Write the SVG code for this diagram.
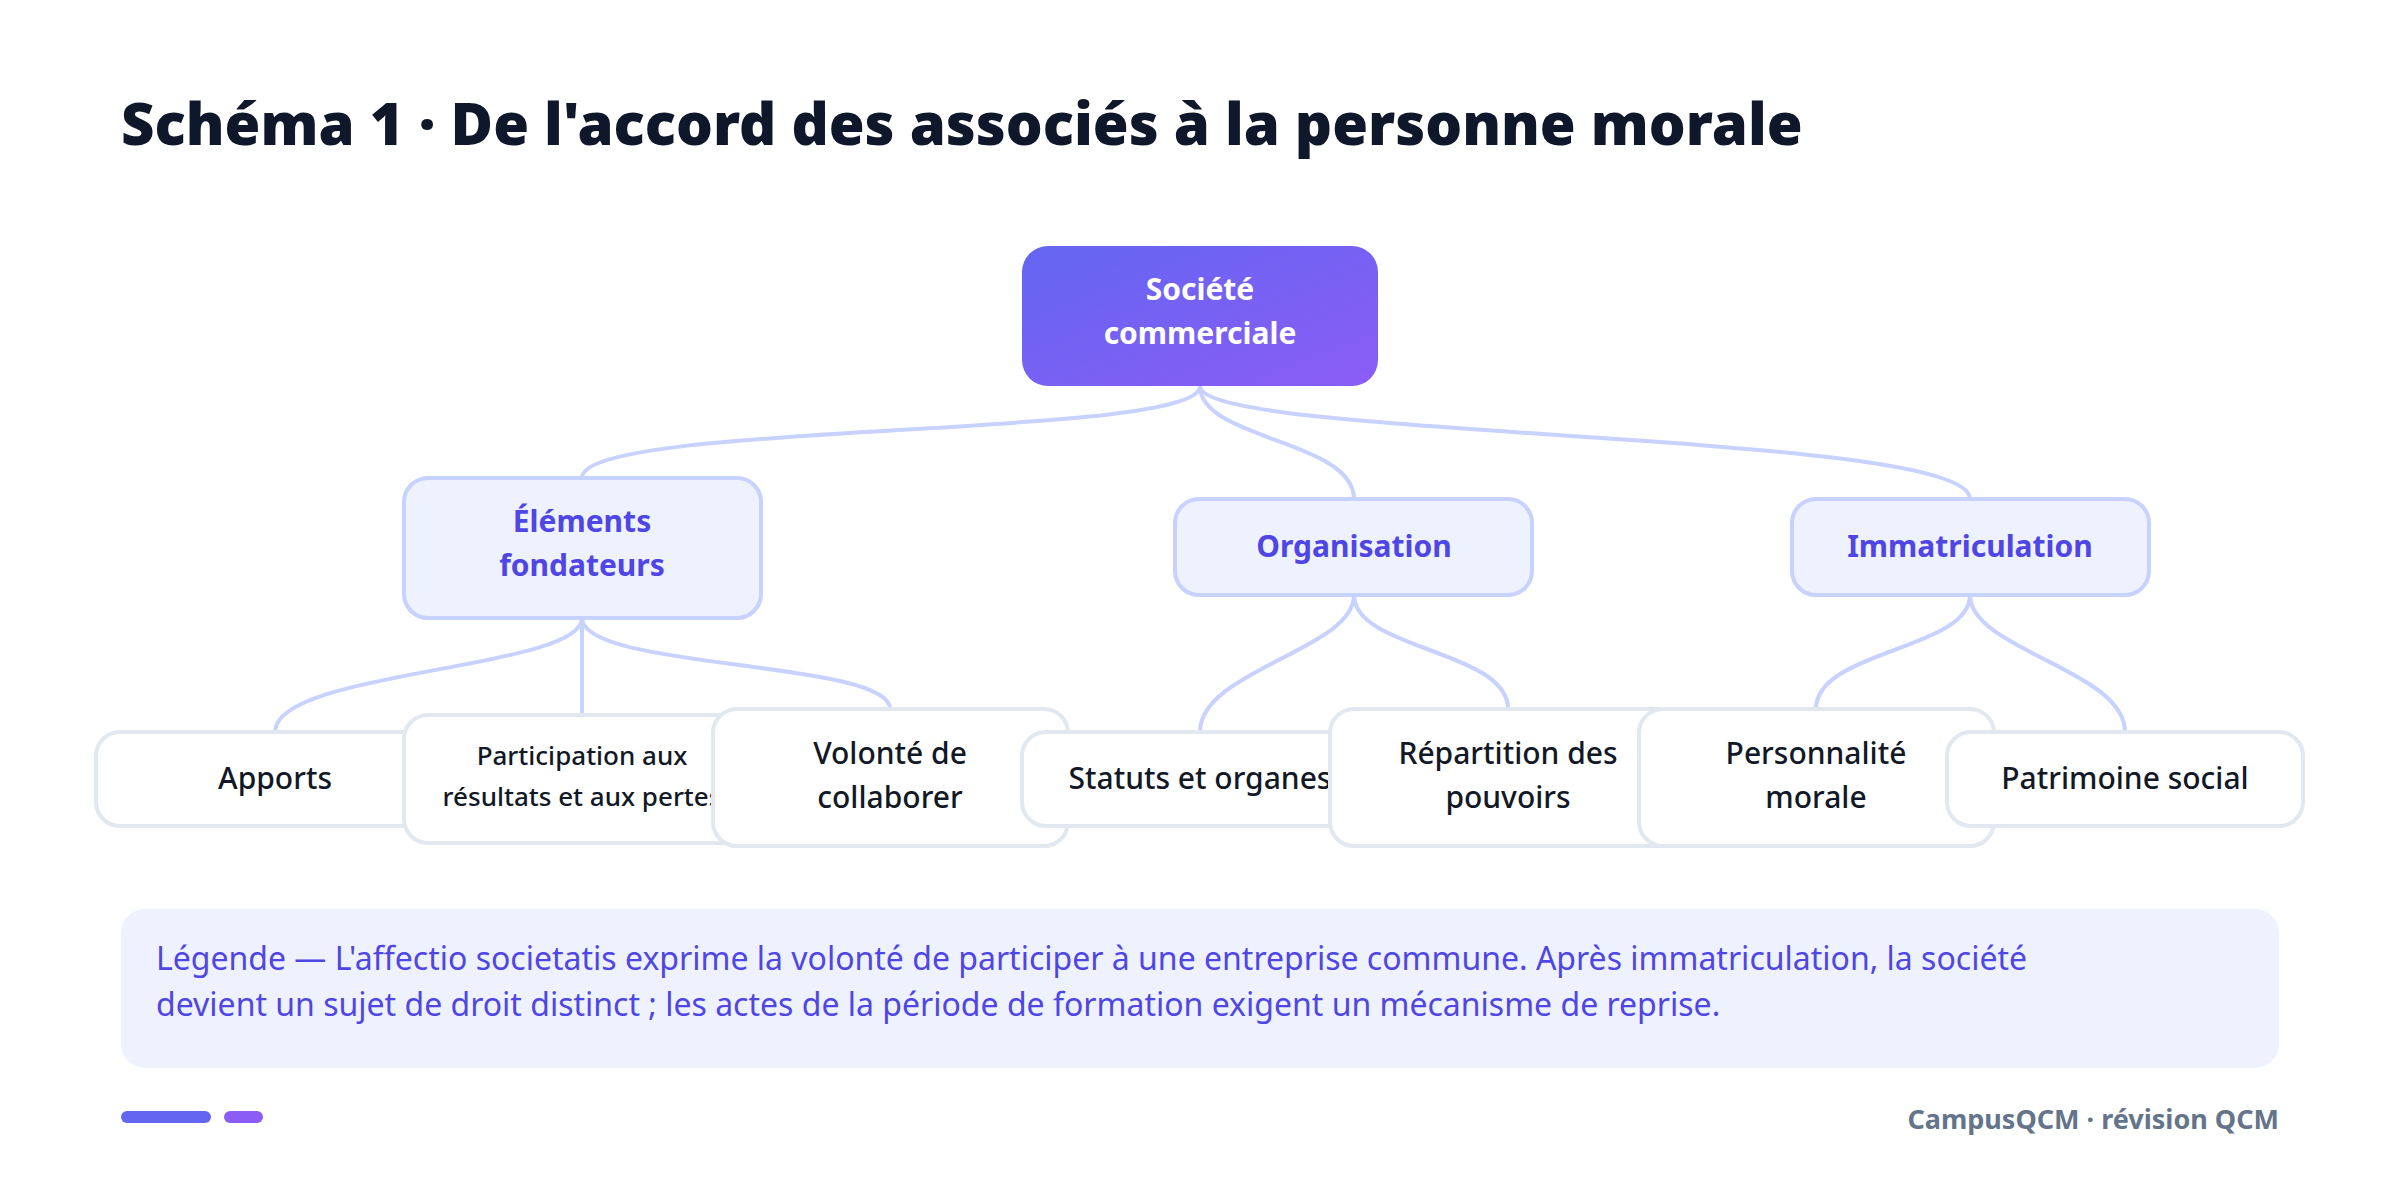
<svg xmlns="http://www.w3.org/2000/svg" width="2400" height="1178" viewBox="0 0 2400 1178">
<defs>
<linearGradient id="g" x1="0" y1="0" x2="1" y2="1"><stop offset="0" stop-color="#6366f1"/><stop offset="1" stop-color="#8b5cf6"/></linearGradient>
<style>
text{font-family:"Noto Sans","Open Sans","Liberation Sans",sans-serif;text-anchor:middle}
.mid rect{fill:#eef2ff;stroke:#c7d2fe;stroke-width:4}
.mid text{fill:#4f46e5;font-weight:700;font-size:30px}
.leaf rect{fill:#fff;stroke:#e2e8f0;stroke-width:4}
.leaf text{fill:#111827;font-weight:500;font-size:30px}
#edges path{fill:none;stroke:#c7d2fe;stroke-width:4}
</style>
</defs>
<rect width="2400" height="1178" fill="#fff"/>
<text x="121" y="145" style="text-anchor:start;font-size:58px;font-weight:900;fill:#0f172a">Schéma 1 · De l'accord des associés à la personne morale</text>
<g id="edges">
<path d="M1200 386 C1200 440 582 420 582 478"/>
<path d="M1200 386 C1200 440 1354 440 1354 499"/>
<path d="M1200 386 C1200 440 1970 430 1970 499"/>
<path d="M582 618 C582 670 275 670 275 732"/>
<path d="M582 618 L582 715"/>
<path d="M582 618 C582 670 890 660 890 709"/>
<path d="M1354 595 C1354 650 1200 670 1200 732"/>
<path d="M1354 595 C1354 650 1508 650 1508 709"/>
<path d="M1970 595 C1970 650 1816 650 1816 709"/>
<path d="M1970 595 C1970 650 2125 670 2125 732"/>
</g>
<g id="root"><rect x="1022" y="246" width="356" height="140" rx="26" fill="url(#g)"/>
<text x="1200" y="300" style="fill:#fff;font-weight:700;font-size:30px">Société</text>
<text x="1200" y="344" style="fill:#fff;font-weight:700;font-size:30px">commerciale</text></g>
<g id="n-elements" class="mid"><rect x="404" y="478" width="357" height="140" rx="24"/><text x="582" y="532">Éléments</text><text x="582" y="576">fondateurs</text></g>
<g id="n-organisation" class="mid"><rect x="1175" y="499" width="357" height="96" rx="24"/><text x="1354" y="557">Organisation</text></g>
<g id="n-immat" class="mid"><rect x="1792" y="499" width="357" height="96" rx="24"/><text x="1970" y="557">Immatriculation</text></g>
<g id="n-apports" class="leaf"><rect x="96" y="732" width="357" height="94" rx="24"/><text x="275" y="789">Apports</text></g>
<g id="n-participation" class="leaf"><rect x="404" y="715" width="357" height="128" rx="24"/><text x="582" y="765" style="font-size:26px">Participation aux</text><text x="582" y="806" style="font-size:26px">résultats et aux pertes</text></g>
<g id="n-volonte" class="leaf"><rect x="713" y="709" width="355" height="137" rx="24"/><text x="890" y="764">Volonté de</text><text x="890" y="808">collaborer</text></g>
<g id="n-statuts" class="leaf"><rect x="1022" y="732" width="356" height="94" rx="24"/><text x="1200" y="789">Statuts et organes</text></g>
<g id="n-repartition" class="leaf"><rect x="1330" y="709" width="356" height="137" rx="24"/><text x="1508" y="764">Répartition des</text><text x="1508" y="808">pouvoirs</text></g>
<g id="n-personnalite" class="leaf"><rect x="1639" y="709" width="355" height="137" rx="24"/><text x="1816" y="764">Personnalité</text><text x="1816" y="808">morale</text></g>
<g id="n-patrimoine" class="leaf"><rect x="1947" y="732" width="356" height="94" rx="24"/><text x="2125" y="789">Patrimoine social</text></g>
<g id="legend"><rect x="121" y="909" width="2158" height="159" rx="24" fill="#eef2ff"/>
<text x="156" y="970" style="text-anchor:start;font-size:32px;fill:#4f46e5">Légende — L'affectio societatis exprime la volonté de participer à une entreprise commune. Après immatriculation, la société</text>
<text x="156" y="1016" style="text-anchor:start;font-size:32px;fill:#4f46e5">devient un sujet de droit distinct ; les actes de la période de formation exigent un mécanisme de reprise.</text></g>
<rect x="121" y="1111" width="90" height="12" rx="6" fill="#6366f1"/>
<rect x="224" y="1111" width="39" height="12" rx="6" fill="#8b5cf6"/>
<text x="2279" y="1129" style="text-anchor:end;font-size:27px;font-weight:700;fill:#64748b">CampusQCM · révision QCM</text>
</svg>
